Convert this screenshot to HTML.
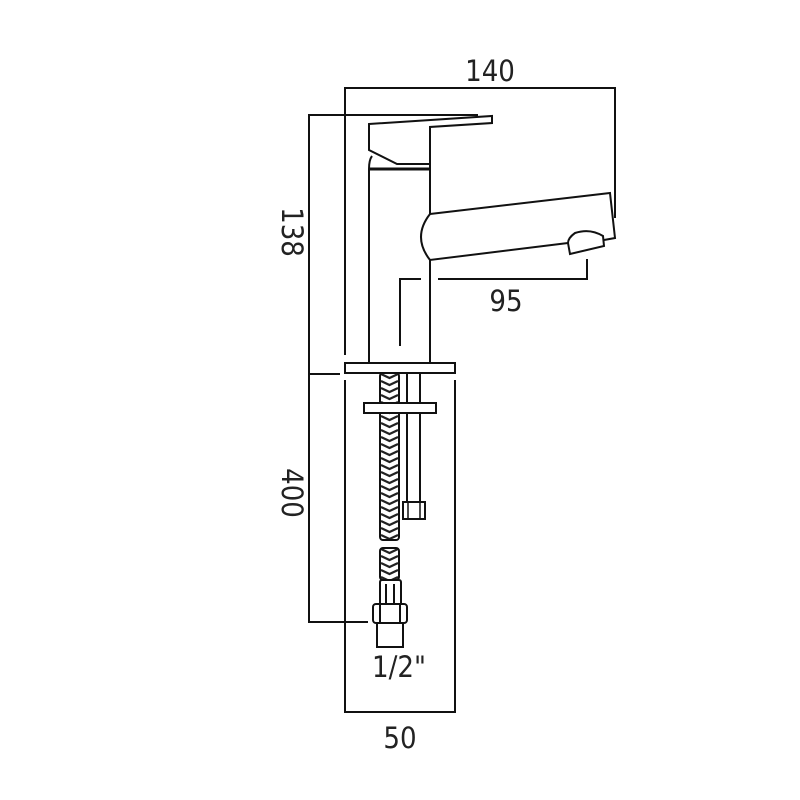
<!DOCTYPE html>
<html><head><style>
html,body{margin:0;padding:0;background:#fff;}
svg{display:block;}
text{font-family:"DejaVu Sans Condensed","Liberation Sans",sans-serif;font-weight:300;fill:#222;}
</style></head><body>
<svg width="800" height="800" viewBox="0 0 800 800" xmlns="http://www.w3.org/2000/svg">
<defs>
<pattern id="br" width="19" height="7" patternUnits="userSpaceOnUse" x="380" y="373">
<rect width="19" height="7" fill="#fff"/>
<path d="M1 1 L9.5 5 L18 1" stroke="#222" stroke-width="2.2" fill="none"/>
</pattern>
</defs>
<g fill="none" stroke="#111" stroke-width="2">
<!-- 140 dim -->
<polyline points="345,355 345,88 615,88 615,218"/>
<!-- 138 dim -->
<polyline points="478,115 309,115 309,374 340,374"/>
<!-- 400 dim -->
<polyline points="309,374 309,622 368,622"/>
<!-- 50 box -->
<polyline points="345,380 345,712 455,712 455,380"/>
<!-- lever -->
<polygon points="369,124 492,116 492,123 430,127 430,164 397,164 369,150" fill="#fff"/>
<path d="M372,156 Q369,160 369,169"/>
<!-- body -->
<line x1="369" y1="169" x2="430" y2="169" stroke-width="3"/>
<line x1="369" y1="169" x2="369" y2="363"/>
<line x1="430" y1="164" x2="430" y2="214"/>
<line x1="430" y1="260" x2="430" y2="363"/>
<!-- spout -->
<path d="M430,214 L610,193 L615,238 L604,240" />
<path d="M430,214 Q412,237 430,260 L568,243"/>
<path d="M568,243 L570,254 L604,246 L603,236 Q590,228 575,233 Q568,238 568,243"/>
<!-- 95 dim -->
<polyline points="400,346 400,279 421,279"/>
<polyline points="438,279 587,279 587,259"/>
<!-- base plate -->
<rect x="345" y="363" width="110" height="10" fill="#fff"/>
<!-- second pipe -->
<line x1="407" y1="373" x2="407" y2="503"/>
<line x1="420" y1="373" x2="420" y2="503"/>
<rect x="403" y="502" width="22" height="17" fill="#fff"/>
<line x1="408" y1="503" x2="408" y2="518" stroke-width="1.5"/>
<line x1="420" y1="503" x2="420" y2="518" stroke-width="1.5"/>
</g>
<!-- braided hose -->
<rect x="380" y="373" width="19" height="167" rx="3" fill="url(#br)" stroke="#111" stroke-width="2"/>
<rect x="380" y="548" width="19" height="32" rx="3" fill="url(#br)" stroke="#111" stroke-width="2"/>
<g fill="#fff" stroke="#111" stroke-width="2">
<rect x="364" y="403" width="72" height="10"/>
<rect x="380" y="580" width="21" height="25" rx="2"/>
<line x1="386" y1="584" x2="386" y2="604"/>
<line x1="394" y1="584" x2="394" y2="604"/>
<rect x="373" y="604" width="34" height="19" rx="3"/>
<line x1="380" y1="605" x2="380" y2="622"/>
<line x1="400" y1="605" x2="400" y2="622"/>
<polyline points="377,623 377,647 403,647 403,623" fill="none"/>
</g>
<text x="490" y="81" font-size="29" text-anchor="middle">140</text>
<text x="506" y="311" font-size="29" text-anchor="middle">95</text>
<text x="399" y="677" font-size="29" text-anchor="middle">1/2"</text>
<text x="400" y="748" font-size="29" text-anchor="middle">50</text>
<text transform="translate(282,232) rotate(90)" font-size="29" text-anchor="middle">138</text>
<text transform="translate(282,493) rotate(90)" font-size="29" text-anchor="middle">400</text>
</svg>
</body></html>
